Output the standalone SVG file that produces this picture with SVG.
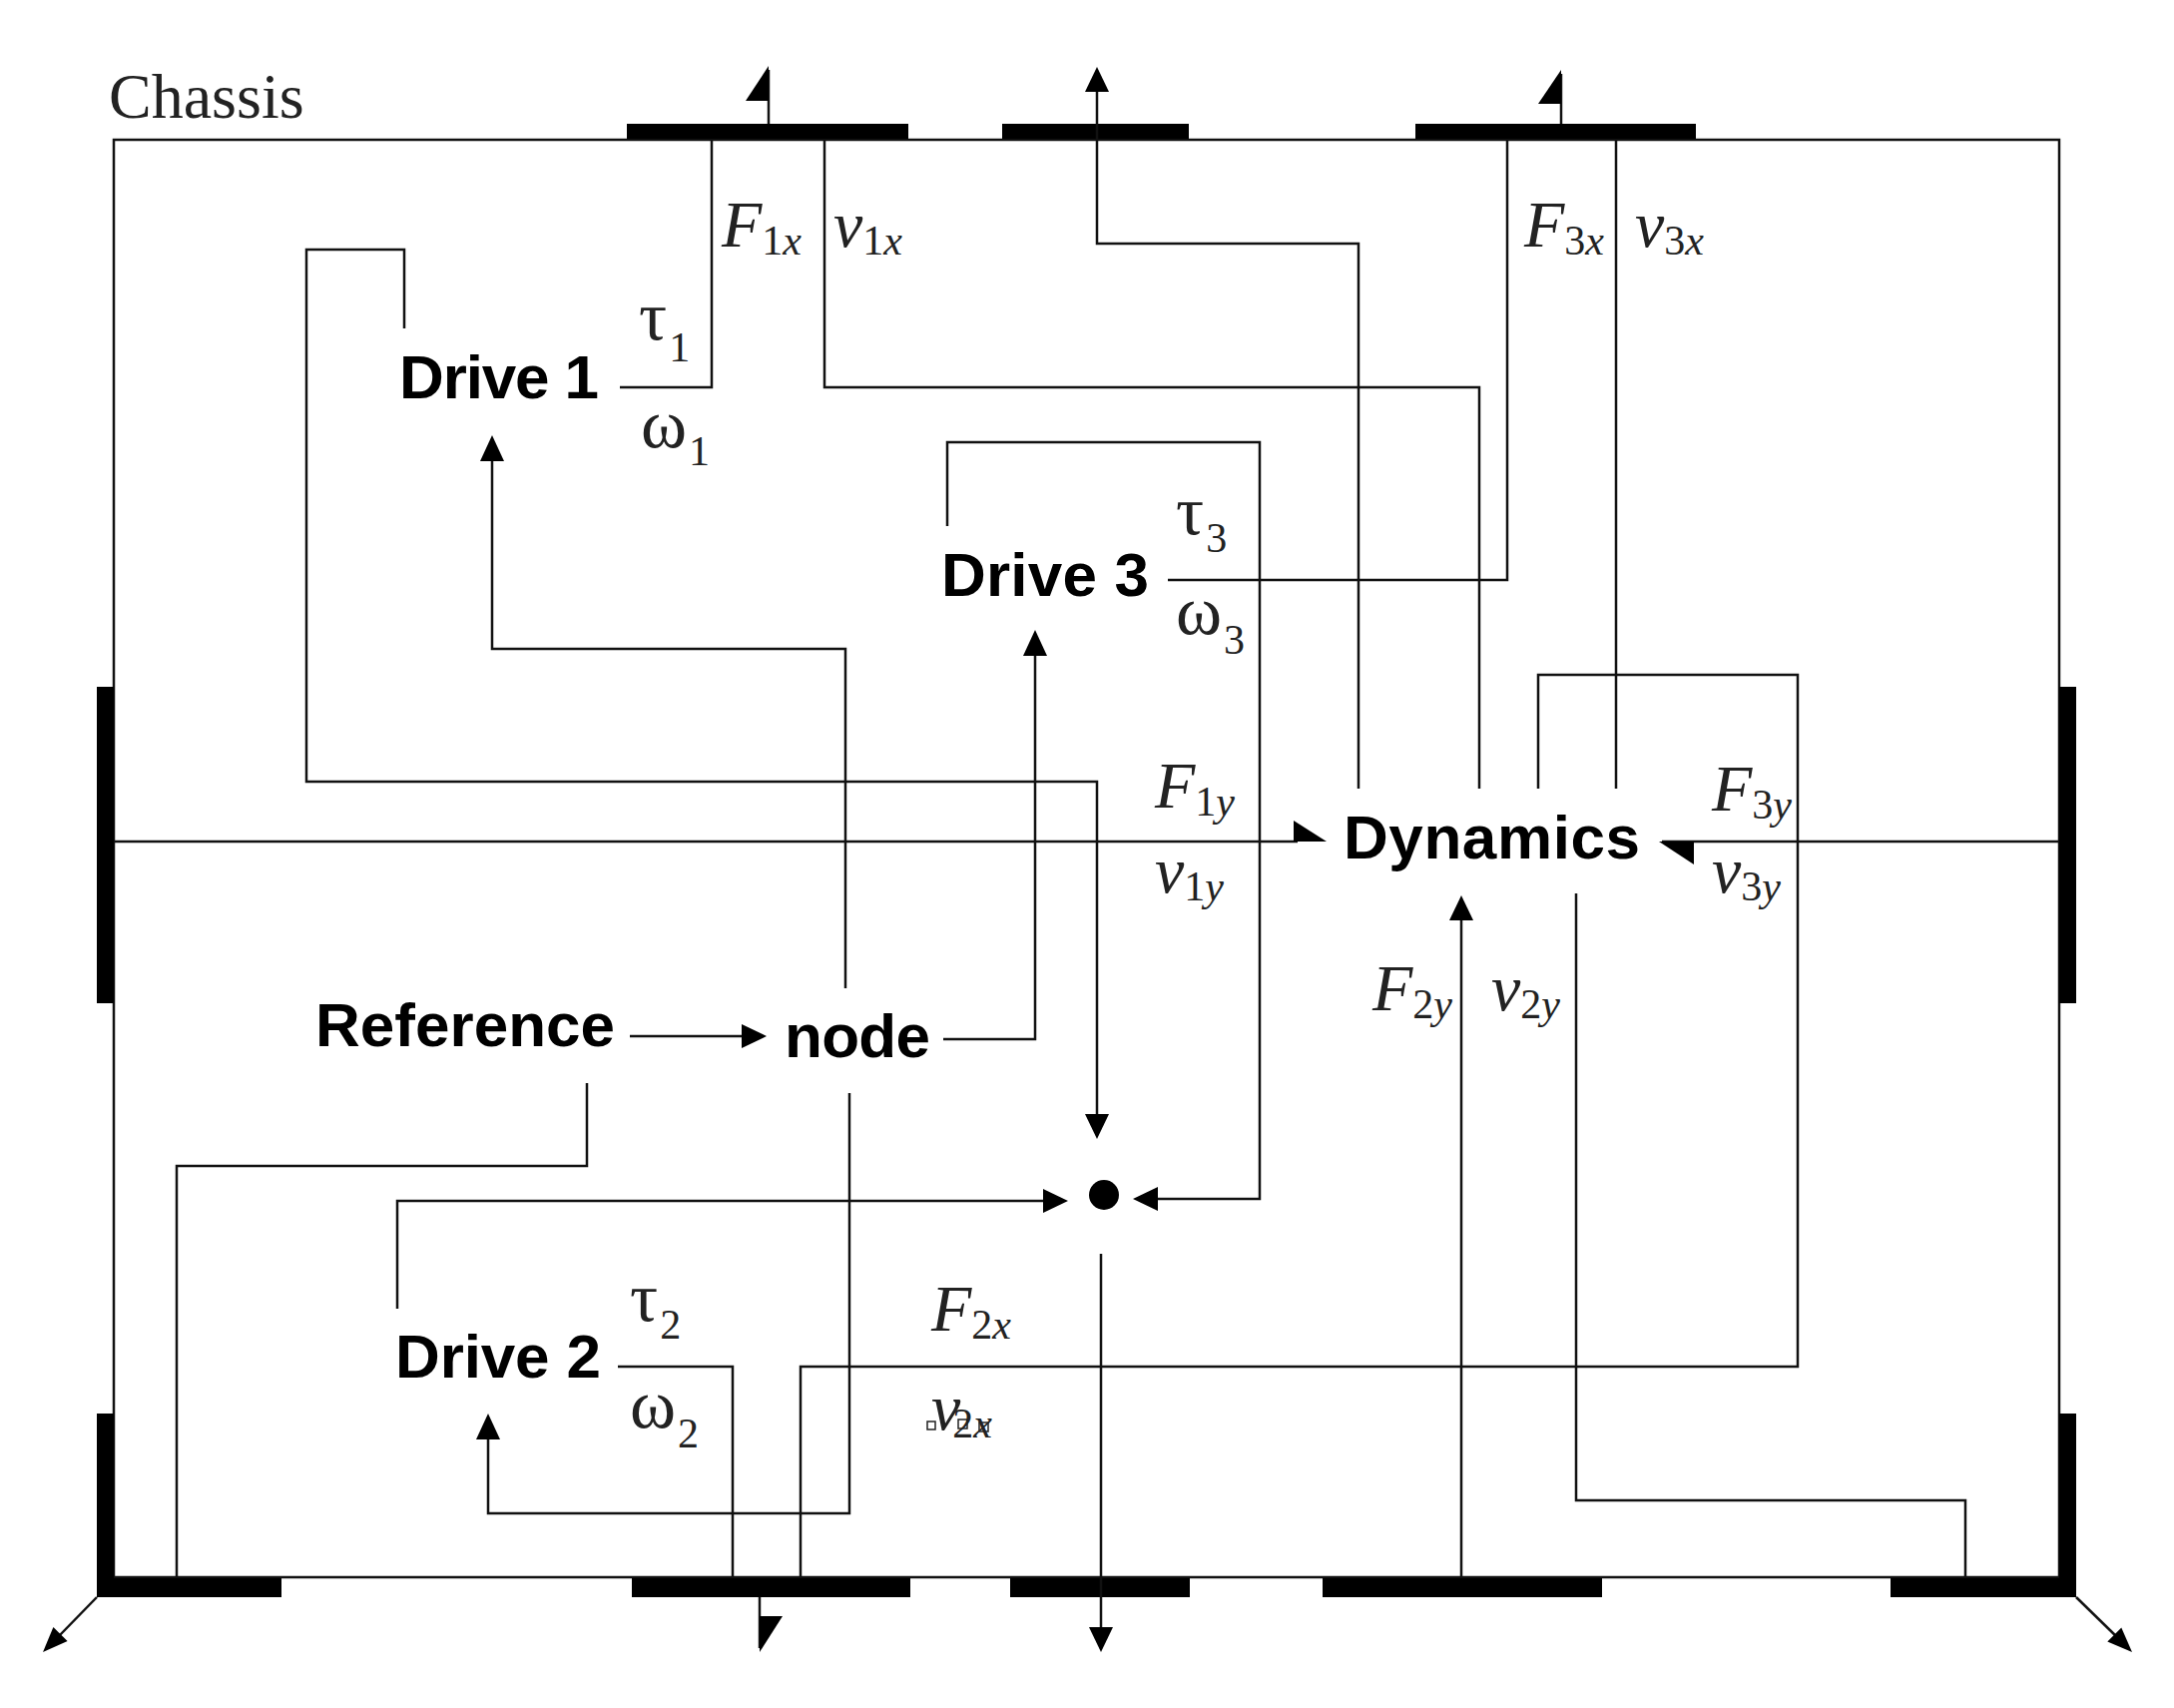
<svg xmlns="http://www.w3.org/2000/svg" width="2178" height="1711" viewBox="0 0 2178 1711">
<style>
.ln{fill:none;stroke:#111;stroke-width:2.5}
.bar{fill:#000}
.ah{fill:#000}
.lbl{font-family:"Liberation Sans",Arial,sans-serif;font-weight:bold;font-size:62px;fill:#000}
.sym{font-family:"Liberation Serif","Times New Roman",serif;font-size:70px;fill:#222}
.it{font-family:"Liberation Serif","Times New Roman",serif;font-style:italic;font-size:66px;fill:#222}
.sub{font-size:42px}
</style>
<rect width="2178" height="1711" fill="#fff"/>
<g id="chassis">
<text x="109" y="118" font-family="Liberation Serif, Times New Roman, serif" font-size="64" fill="#222">Chassis</text>
<path class="ln" d="M114,140 H2063 V1580 H114 Z"/>
<rect class="bar" x="628" y="124" width="282" height="15"/>
<rect class="bar" x="1004" y="124" width="187" height="15"/>
<rect class="bar" x="1418" y="124" width="281" height="15"/>
<rect class="bar" x="97" y="688" width="17" height="317"/>
<rect class="bar" x="97" y="1416" width="17" height="184"/>
<rect class="bar" x="97" y="1581" width="185" height="19"/>
<rect class="bar" x="633" y="1581" width="279" height="19"/>
<rect class="bar" x="1012" y="1581" width="180" height="19"/>
<rect class="bar" x="1325" y="1581" width="280" height="19"/>
<rect class="bar" x="1894" y="1581" width="186" height="19"/>
<rect class="bar" x="2063" y="688" width="17" height="317"/>
<rect class="bar" x="2063" y="1416" width="17" height="184"/>
</g>
<g id="connectors">
<path class="ln" d="M770,124 V70"/>
<polygon class="ah" points="770,66 747,101 770,101"/>
<path class="ln" d="M1099,90 V244 H1361 V790"/>
<polygon class="ah" points="1099,67 1087,92 1111,92"/>
<path class="ln" d="M1564,124 V74"/>
<polygon class="ah" points="1564,70 1541,104 1564,104"/>
<path class="ln" d="M713,140 V388 H621"/>
<path class="ln" d="M826,140 V388 H1482 V790"/>
<path class="ln" d="M405,329 V250 H307 V783 H1099 V1118"/>
<polygon class="ah" points="1099,1141 1087,1116 1111,1116"/>
<path class="ln" d="M493,460 V650 H847 V990"/>
<polygon class="ah" points="493,436 481,462 505,462"/>
<path class="ln" d="M949,527 V443 H1262 V1201 H1158"/>
<polygon class="ah" points="1135,1201 1160,1189 1160,1213"/>
<path class="ln" d="M945,1041 H1037 V655"/>
<polygon class="ah" points="1037,631 1025,657 1049,657"/>
<path class="ln" d="M114,843 H1300"/>
<polygon class="ah" points="1296,822 1296,843 1329,843"/>
<path class="ln" d="M2063,843 H1665"/>
<polygon class="ah" points="1662,843 1697,843 1697,866"/>
<path class="ln" d="M1510,140 V581 H1170"/>
<path class="ln" d="M1619,140 V790"/>
<path class="ln" d="M1541,790 V676 H1801 V1369 H802 V1580"/>
<path class="ln" d="M1464,1580 V920"/>
<polygon class="ah" points="1464,897 1452,922 1476,922"/>
<path class="ln" d="M1579,895 V1503 H1969 V1580"/>
<path class="ln" d="M1103,1256 V1632"/>
<polygon class="ah" points="1103,1655 1091,1630 1115,1630"/>
<path class="ln" d="M631,1038 H746"/>
<polygon class="ah" points="768,1038 743,1026 743,1050"/>
<path class="ln" d="M588,1085 V1168 H177 V1580"/>
<path class="ln" d="M398,1311 V1203 H1047"/>
<polygon class="ah" points="1070,1203 1045,1191 1045,1215"/>
<path class="ln" d="M851,1095 V1516 H489 V1440"/>
<polygon class="ah" points="489,1416 477,1442 501,1442"/>
<path class="ln" d="M619,1369 H734 V1580"/>
<path class="ln" d="M761,1600 V1651"/>
<polygon class="ah" points="761,1655 784,1619 761,1619"/>
<path class="ln" d="M97,1600 L58,1640"/>
<polygon class="ah" points="43,1655 67.6,1644 53.4,1630"/>
<path class="ln" d="M2080,1600 L2121,1640"/>
<polygon class="ah" points="2136,1655 2111.3,1644.6 2125.3,1630.4"/>
</g>
<g id="dot"><circle cx="1106" cy="1197" r="15" fill="#000"/></g>
<g id="drive1">
<text x="400" y="399" class="lbl" textLength="200">Drive 1</text>
<text x="640" y="340" class="sym">τ<tspan class="sub" dx="2" dy="22">1</tspan></text>
<text x="642" y="448" class="sym">ω<tspan class="sub" dx="2" dy="18">1</tspan></text>
</g>
<g id="drive3">
<text x="943" y="597" class="lbl" textLength="208">Drive 3</text>
<text x="1178" y="535" class="sym">τ<tspan class="sub" dx="2" dy="18">3</tspan></text>
<text x="1178" y="635" class="sym">ω<tspan class="sub" dx="2" dy="20">3</tspan></text>
</g>
<g id="drive2">
<text x="396" y="1380" class="lbl" textLength="206">Drive 2</text>
<text x="631" y="1323" class="sym">τ<tspan class="sub" dx="2" dy="18">2</tspan></text>
<text x="631" y="1430" class="sym">ω<tspan class="sub" dx="2" dy="20">2</tspan></text>
</g>
<g id="dynamics"><text x="1346" y="860" class="lbl" textLength="297">Dynamics</text></g>
<g id="reference"><text x="316" y="1048" class="lbl" textLength="300">Reference</text></g>
<g id="node"><text x="786" y="1059" class="lbl" textLength="146">node</text></g>
<g id="labels">
<text x="723" y="247" class="it">F<tspan class="sub" font-style="normal" dy="8">1</tspan><tspan class="sub">x</tspan></text>
<text x="835" y="247" class="it">v<tspan class="sub" font-style="normal" dy="8">1</tspan><tspan class="sub">x</tspan></text>
<text x="1527" y="247" class="it">F<tspan class="sub" font-style="normal" dy="8">3</tspan><tspan class="sub">x</tspan></text>
<text x="1638" y="247" class="it">v<tspan class="sub" font-style="normal" dy="8">3</tspan><tspan class="sub">x</tspan></text>
<text x="1157" y="809" class="it">F<tspan class="sub" font-style="normal" dy="8">1</tspan><tspan class="sub">y</tspan></text>
<text x="1157" y="894" class="it">v<tspan class="sub" font-style="normal" dy="8">1</tspan><tspan class="sub">y</tspan></text>
<text x="1715" y="812" class="it">F<tspan class="sub" font-style="normal" dy="8">3</tspan><tspan class="sub">y</tspan></text>
<text x="1715" y="894" class="it">v<tspan class="sub" font-style="normal" dy="8">3</tspan><tspan class="sub">y</tspan></text>
<text x="1375" y="1012" class="it">F<tspan class="sub" font-style="normal" dy="8">2</tspan><tspan class="sub">y</tspan></text>
<text x="1494" y="1012" class="it">v<tspan class="sub" font-style="normal" dy="8">2</tspan><tspan class="sub">y</tspan></text>
<text x="933" y="1333" class="it">F<tspan class="sub" font-style="normal" dy="8">2</tspan><tspan class="sub">x</tspan></text>
<text x="933" y="1432" class="it">v<tspan class="sub" font-style="normal" dx="-8" dy="8">2</tspan><tspan class="sub">x</tspan></text>
<rect x="929" y="1424" width="8" height="8" fill="none" stroke="#222" stroke-width="1.5"/>
<rect x="960" y="1422" width="9" height="9" fill="none" stroke="#222" stroke-width="1.5"/>
<rect x="981" y="1425" width="9" height="9" fill="none" stroke="#222" stroke-width="1.5"/>
</g>
</svg>
